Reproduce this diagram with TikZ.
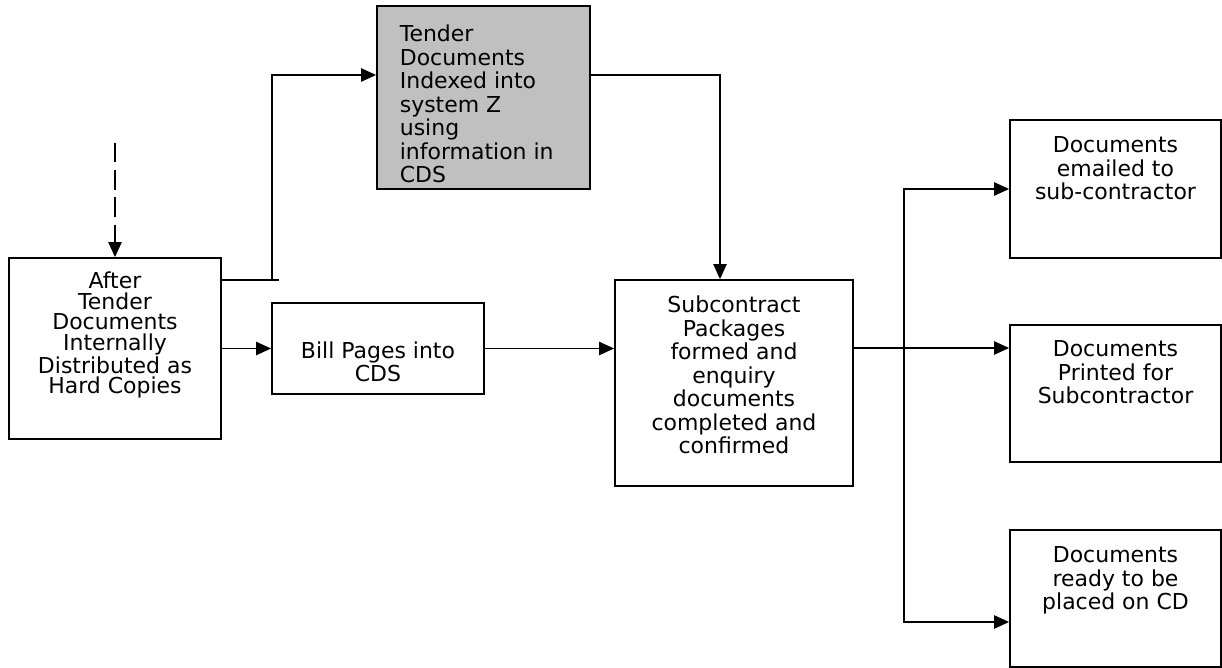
\documentclass[tikz,border=0pt]{standalone}
\usepackage{fontspec}
\setmainfont{DejaVu Sans}
\usetikzlibrary{arrows.meta,calc,positioning}
\definecolor{silver}{HTML}{C0C0C0}
\newcommand{\boxtext}[4]{\parbox[c][#2][t]{#1}{\vspace*{#3}#4}}

\begin{document}
\begin{tikzpicture}[>={Triangle[length=8.5pt,width=7.5pt]},
  block/.style={draw, line width=1pt, inner sep=0pt, font=\fontsize{12.5}{13.4}\selectfont},
  link/.style={line width=1pt}]
  \useasboundingbox (0,0) rectangle (24.44,13.36);
  % process boxes
  \node[block] (after) at (2.30,6.39) {\boxtext{4.24cm}{3.62cm}{7.9pt}{\centering\baselineskip=11.7pt After\\Tender\\Documents\\Internally\\Distributed as\\Hard Copies}};
  \node[block, fill=silver] (index) at (9.67,11.41) {\boxtext{4.26cm}{3.66cm}{10.8pt}{\raggedright\leftskip=13pt Tender\\Documents\\Indexed into\\system Z\\using\\information in\\CDS}};
  \node[block] (bill) at (7.56,6.39) {\boxtext{4.24cm}{1.82cm}{22pt}{\centering Bill Pages into\\CDS}};
  \node[block] (pack) at (14.68,5.70) {\boxtext{4.76cm}{4.12cm}{9.1pt}{\centering Subcontract\\Packages\\formed and\\enquiry\\documents\\completed and\\confirmed}};
  \node[block] (mail) at (22.31,9.58) {\boxtext{4.22cm}{2.76cm}{9.6pt}{\centering Documents\\emailed to\\sub-contractor}};
  \node[block] (print) at (22.31,5.49) {\boxtext{4.22cm}{2.74cm}{9pt}{\centering Documents\\Printed for\\Subcontractor}};
  \node[block] (cd) at (22.31,1.39) {\boxtext{4.22cm}{2.74cm}{9.6pt}{\centering Documents\\ready to be\\placed on CD}};
  % junction points
  \coordinate (start) at (2.30,10.50);
  \coordinate (fork) at (5.44,7.76);
  \coordinate (split) at (18.08,6.40);
  % connectors
  \draw[link, dash pattern=on 11pt off 4.5pt, ->] (start) -- (after.north);
  \draw[link] (after.east |- fork) -- ([xshift=0.14cm]fork);
  \draw[link, ->] (fork) |- ([yshift=0.45cm]index.west);
  \draw[link, ->] ([yshift=0.45cm]index.east) -| ([xshift=-0.28cm]pack.north);
  \draw[link, ->] (after.east) -- (bill.west);
  \draw[link, ->] (bill.east) -- (pack.west |- bill.east);
  \draw[link] (pack.east |- split) -- (split);
  \draw[link, ->] (split) -- (print.west |- split);
  \draw[link, ->] (split) |- (mail.west);
  \draw[link, ->] (split) |- ([yshift=-0.47cm]cd.west);
\end{tikzpicture}
\end{document}
